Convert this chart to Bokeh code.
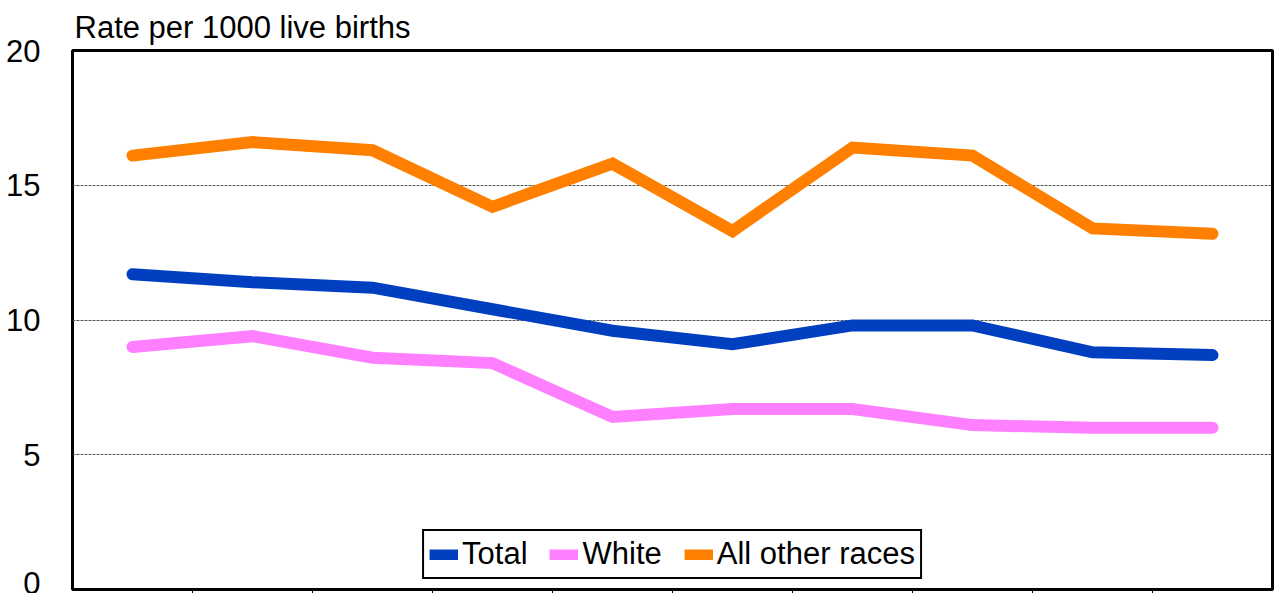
from bokeh.plotting import figure
from bokeh.models import Range1d, FixedTicker, Legend, LegendItem
from bokeh.embed import file_html
from bokeh.resources import INLINE

# Data (period labels are not visible in the reference; periods indexed in order)
categories = ["1", "2", "3", "4", "5", "6", "7", "8", "9", "10"]
total = [11.7, 11.4, 11.2, 10.4, 9.6, 9.1, 9.8, 9.8, 8.8, 8.7]
white = [9.0, 9.4, 8.6, 8.4, 6.4, 6.7, 6.7, 6.1, 6.0, 6.0]
other = [16.1, 16.6, 16.3, 14.2, 15.8, 13.3, 16.4, 16.1, 13.4, 13.2]
y_ticks = [0, 5, 10, 15, 20]
series_names = ["Total", "White", "All other races"]
colors = ["#0040C0", "#FF80FF", "#FF8000"]

FONT = "Liberation Sans"
FS = "31px"
xs = list(range(len(categories)))

p = figure(width=1276, height=593, output_backend="svg", toolbar_location=None,
           x_range=Range1d(-0.5, len(categories) - 0.5), y_range=Range1d(0, 20),
           min_border_left=72, min_border_right=4, min_border_top=50, min_border_bottom=0)

p.title.text = "Rate per 1000 live births"
p.title.text_font = FONT
p.title.text_font_size = FS
p.title.text_font_style = "normal"
p.title.text_color = "black"
p.title.align = "left"
p.title.offset = 2
p.title.standoff = 12

p.outline_line_color = "black"
p.outline_line_width = 3
p.outline_line_alpha = 1

# y axis
p.yaxis.ticker = FixedTicker(ticks=y_ticks)
p.yaxis.axis_line_color = None
p.yaxis.major_tick_line_color = None
p.yaxis.minor_tick_line_color = None
p.yaxis.major_label_standoff = 26
p.yaxis.major_label_text_font = FONT
p.yaxis.major_label_text_font_size = FS
p.yaxis.major_label_text_color = "black"

# x axis: ticks at category boundaries, no labels
bounds = [i + 0.5 for i in xs[:-1]]
p.xaxis.ticker = FixedTicker(ticks=bounds)
p.xaxis.major_label_overrides = {b: "" for b in bounds}
p.xaxis.major_label_text_font_size = "1px"
p.xaxis.major_label_standoff = 0
p.xaxis.major_tick_in = 0
p.xaxis.major_tick_out = 4
p.xaxis.major_tick_line_color = "black"
p.xaxis.minor_tick_line_color = None
p.xaxis.axis_line_color = "black"
p.xaxis.axis_line_width = 3

p.xgrid.grid_line_color = None
p.ygrid.ticker = FixedTicker(ticks=[5, 10, 15])
p.ygrid.grid_line_color = "#555555"
p.ygrid.grid_line_dash = "3 1"
p.ygrid.grid_line_width = 1

p.background_fill_color = "white"
p.border_fill_color = "white"

nan = float("nan")
items = []
for name, vals, c in zip(series_names, [total, white, other], colors):
    p.line(xs, vals, line_color=c, line_width=12, line_cap="round", line_join="miter")
    # legend-only swatch (no visible data)
    swatch = p.line(x=[nan, nan], y=[nan, nan], line_color=c, line_width=11, line_cap="butt")
    items.append(LegendItem(label=name, renderers=[swatch]))

legend = Legend(items=items, orientation="horizontal", location="bottom_center",
                label_text_font=FONT, label_text_font_size=FS, label_text_color="black",
                glyph_width=29, glyph_height=11, label_standoff=4, spacing=22,
                padding=5, margin=10, border_line_color="black", border_line_width=2,
                border_line_alpha=1, background_fill_alpha=1, label_height=30)
p.add_layout(legend, "center")

open("out.html", "w").write(file_html(p, INLINE))
